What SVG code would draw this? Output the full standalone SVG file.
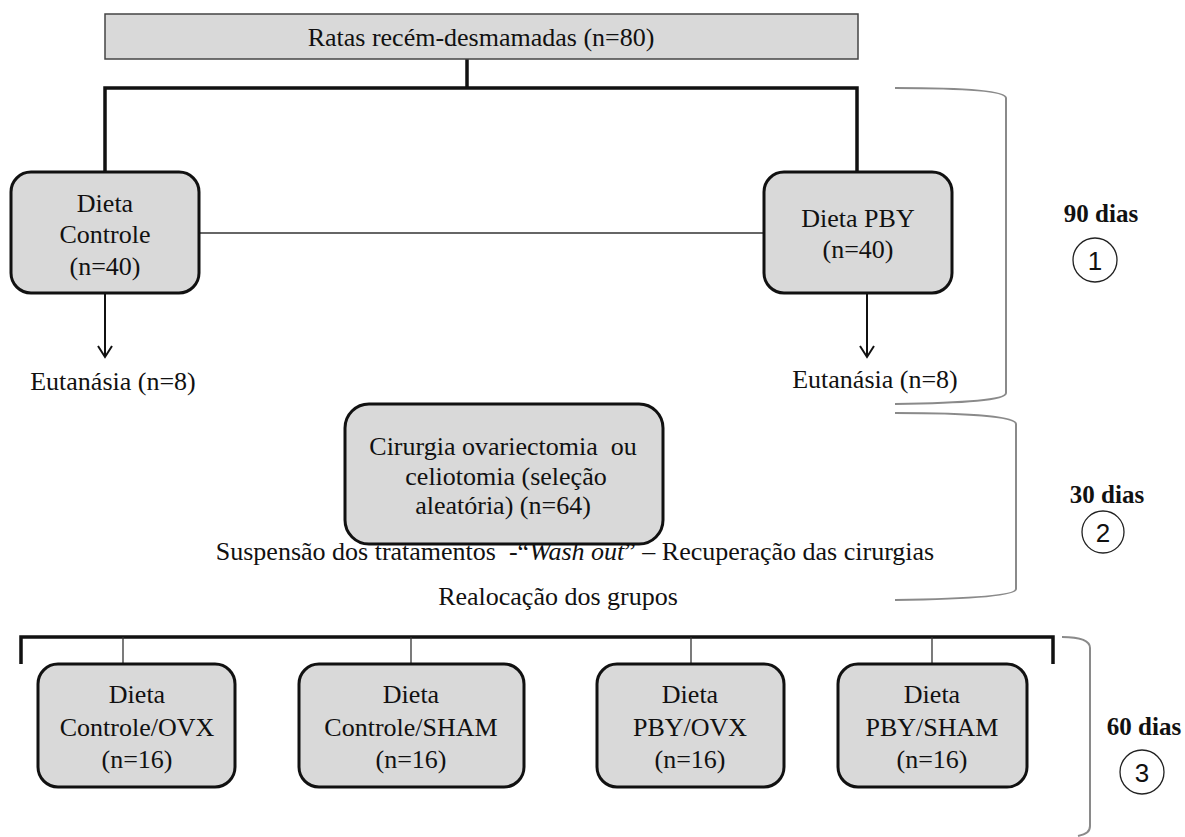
<svg xmlns="http://www.w3.org/2000/svg" width="1185" height="837" viewBox="0 0 1185 837">
<defs>
<style>
.t{font-family:'Liberation Serif','Times New Roman',Times,'DejaVu Serif',serif;font-size:26px;font-weight:normal;fill:#111;text-anchor:middle}
.b{font-family:'Liberation Serif','Times New Roman',Times,serif;font-size:25px;font-weight:bold;fill:#111;text-anchor:middle}
.d{font-family:'Liberation Sans',Arial,sans-serif;font-size:26px;fill:#111;text-anchor:middle}
.rb{fill:#d9d9d9;stroke:#111;stroke-width:3}
.thick{fill:none;stroke:#111;stroke-width:3.5}
.thin{fill:none;stroke:#333;stroke-width:1.3}
.br{fill:none;stroke:#8a8a8a;stroke-width:2}
.circ{fill:#fff;stroke:#222;stroke-width:1.3}
</style>
<marker id="ah" viewBox="0 0 16 16" refX="14" refY="8" markerWidth="16" markerHeight="16" markerUnits="userSpaceOnUse" orient="auto">
<path d="M3,1 L14,8 L3,15" fill="none" stroke="#111" stroke-width="2"/>
</marker>
</defs>
<rect width="1185" height="837" fill="#fff"/>

<g id="connectors">
<line class="thick" x1="467" y1="59" x2="467" y2="88"/>
<path class="thick" d="M105,172 V88 H857 V172"/>
<line class="thin" x1="199" y1="233" x2="764" y2="233"/>
<line x1="105" y1="293" x2="105" y2="357" stroke="#111" stroke-width="2" marker-end="url(#ah)"/>
<line x1="867" y1="293" x2="867" y2="357" stroke="#111" stroke-width="2" marker-end="url(#ah)"/>
<path class="thick" d="M21,664 V637 H1053 V664"/>
<line class="thin" x1="123" y1="637" x2="123" y2="664"/>
<line class="thin" x1="411" y1="637" x2="411" y2="664"/>
<line class="thin" x1="691" y1="637" x2="691" y2="664"/>
<line class="thin" x1="932" y1="637" x2="932" y2="664"/>
</g>

<g id="brackets">
<path class="br" d="M895,88 C965,88 1006,91 1006,98 L1006,393 C1006,400 965,403 895,404"/>
<path class="br" d="M895,413 C965,413 1016,416 1016,424 L1016,589 C1016,596 965,599 895,600"/>
<path class="br" d="M1062,637 C1080,637 1090,640 1090,648 L1090,826 C1090,832 1086,834 1078,836"/>
</g>

<g id="n-top">
<rect x="105" y="14" width="753" height="45" fill="#d9d9d9" stroke="#444" stroke-width="1.5"/>
<text class="t" x="481" y="46">Ratas recém-desmamadas (n=80)</text>
</g>

<g id="n-controle">
<rect class="rb" x="11" y="172" width="188" height="121" rx="20"/>
<text class="t" x="105" y="212">Dieta</text>
<text class="t" x="105" y="243">Controle</text>
<text class="t" x="105" y="275">(n=40)</text>
</g>

<g id="n-pby">
<rect class="rb" x="764" y="172" width="188" height="121" rx="20"/>
<text class="t" x="858" y="227">Dieta PBY</text>
<text class="t" x="858" y="258">(n=40)</text>
</g>

<g id="n-eut1"><text class="t" x="113" y="390">Eutanásia (n=8)</text></g>
<g id="n-eut2"><text class="t" x="875" y="388">Eutanásia (n=8)</text></g>

<g id="n-cirurgia">
<rect class="rb" x="345" y="404" width="318" height="140" rx="24"/>
<text class="t" x="503" y="455" xml:space="preserve">Cirurgia ovariectomia  ou</text>
<text class="t" x="506" y="485">celiotomia (seleção</text>
<text class="t" x="503" y="514">aleatória) (n=64)</text>
</g>

<g id="n-suspensao">
<text class="t" x="575" y="560" xml:space="preserve">Suspensão dos tratamentos  -“<tspan font-style="italic">Wash out</tspan>” – Recuperação das cirurgias</text>
</g>

<g id="n-realocacao"><text class="t" x="558" y="605">Realocação dos grupos</text></g>

<g id="n-g1">
<rect class="rb" x="38" y="664" width="197" height="123" rx="20"/>
<text class="t" x="137" y="703">Dieta</text>
<text class="t" x="137" y="736">Controle/OVX</text>
<text class="t" x="137" y="768">(n=16)</text>
</g>
<g id="n-g2">
<rect class="rb" x="299" y="664" width="225" height="123" rx="20"/>
<text class="t" x="411" y="703">Dieta</text>
<text class="t" x="411" y="736">Controle/SHAM</text>
<text class="t" x="411" y="768">(n=16)</text>
</g>
<g id="n-g3">
<rect class="rb" x="597" y="664" width="187" height="123" rx="20"/>
<text class="t" x="690" y="703">Dieta</text>
<text class="t" x="690" y="736">PBY/OVX</text>
<text class="t" x="690" y="768">(n=16)</text>
</g>
<g id="n-g4">
<rect class="rb" x="838" y="664" width="189" height="123" rx="20"/>
<text class="t" x="932" y="703">Dieta</text>
<text class="t" x="932" y="736">PBY/SHAM</text>
<text class="t" x="932" y="768">(n=16)</text>
</g>

<g id="n-phase1">
<text class="b" x="1101" y="222">90 dias</text>
<circle class="circ" cx="1095" cy="260" r="22"/>
<text class="d" x="1095" y="270">1</text>
</g>
<g id="n-phase2">
<text class="b" x="1107" y="503">30 dias</text>
<circle class="circ" cx="1103" cy="532" r="21"/>
<text class="d" x="1103" y="542">2</text>
</g>
<g id="n-phase3">
<text class="b" x="1144" y="735">60 dias</text>
<circle class="circ" cx="1142" cy="772" r="22"/>
<text class="d" x="1142" y="782">3</text>
</g>
</svg>
